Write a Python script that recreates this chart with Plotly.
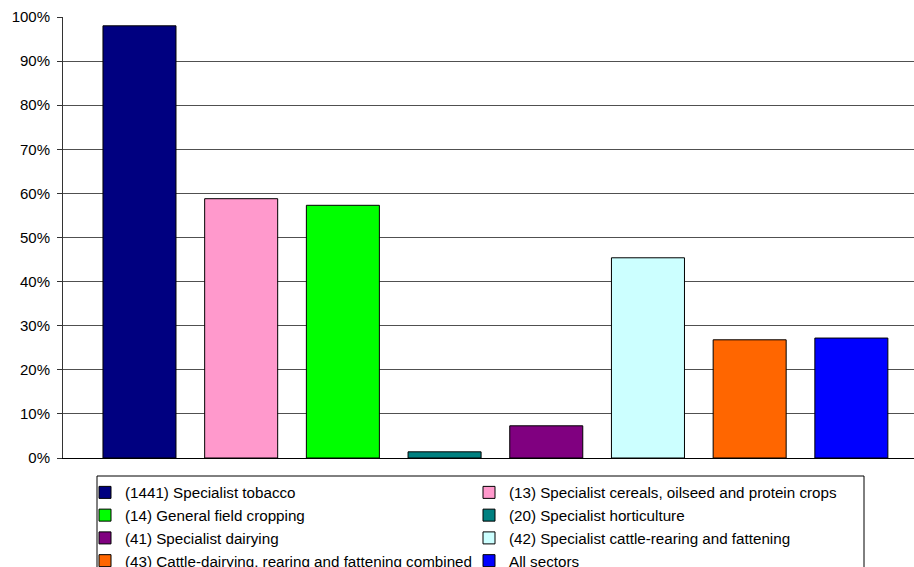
import plotly.graph_objects as go

categories = [
    "(1441) Specialist tobacco",
    "(13) Specialist cereals, oilseed and protein crops",
    "(14) General field cropping",
    "(20) Specialist horticulture",
    "(41) Specialist dairying",
    "(42) Specialist cattle-rearing and fattening",
    "(43) Cattle-dairying, rearing and fattening combined",
    "All sectors",
]
values = [98.0, 58.8, 57.3, 1.4, 7.3, 45.4, 26.8, 27.2]
colors = ["#000080", "#FF99CC", "#00FF00", "#008080", "#800080", "#CCFFFF", "#FF6600", "#0000FF"]
y_ticks = list(range(0, 101, 10))
y_tick_labels = [f"{v}%" for v in y_ticks]

fig = go.Figure()
for cat, val, col in zip(categories, values, colors):
    fig.add_trace(go.Bar(
        x=[cat], y=[val], name=cat, width=0.718,
        marker=dict(color=col, line=dict(color="#000000", width=1)),
        hoverinfo="name+y",
    ))

W, H = 914, 567
L, R, T, B = 63, 0, 17, 109
pw, ph = W - L - R, H - T - B


def px_x(x):
    return (x - L) / pw


def px_y(y):
    return (H - B - y) / ph


font_family = "Liberation Sans, Arial, sans-serif"
fig.update_layout(
    width=W, height=H,
    margin=dict(l=L, r=R, t=T, b=B, autoexpand=False),
    paper_bgcolor="white", plot_bgcolor="white",
    barmode="overlay",
    font=dict(family=font_family, size=15, color="#000000"),
    showlegend=True,
    legend=dict(
        orientation="h", x=px_x(85), xanchor="left", y=px_y(476), yanchor="top",
        borderwidth=0, bgcolor="rgba(0,0,0,0)",
        entrywidth=339, entrywidthmode="pixels",
        font=dict(family=font_family, size=15.2, color="#000000"),
        traceorder="normal",
    ),
    shapes=[dict(
        type="rect", xref="paper", yref="paper",
        x0=px_x(97), x1=px_x(864), y0=px_y(476), y1=px_y(575),
        line=dict(color="#000000", width=1), fillcolor="rgba(0,0,0,0)", layer="below",
    )],
    xaxis=dict(
        type="category", categoryorder="array", categoryarray=categories,
        range=[-0.752, 7.616], showticklabels=False, ticks="",
        showgrid=False, showline=True, linecolor="#000000", linewidth=1,
        zeroline=False, fixedrange=True,
    ),
    yaxis=dict(
        range=[0, 100], tickvals=y_ticks, ticktext=y_tick_labels,
        ticks="outside", ticklen=5, tickcolor="#333333", tickwidth=1,
        ticklabelstandoff=4,
        showgrid=True, gridcolor="#505050", gridwidth=1,
        showline=True, linecolor="#333333", linewidth=1,
        zeroline=False, fixedrange=True,
        tickfont=dict(family=font_family, size=15, color="#000000"),
    ),
)

fig.write_html(
    "out.html",
    config={"displayModeBar": False},
    post_script="document.body.style.margin='0';",
)
